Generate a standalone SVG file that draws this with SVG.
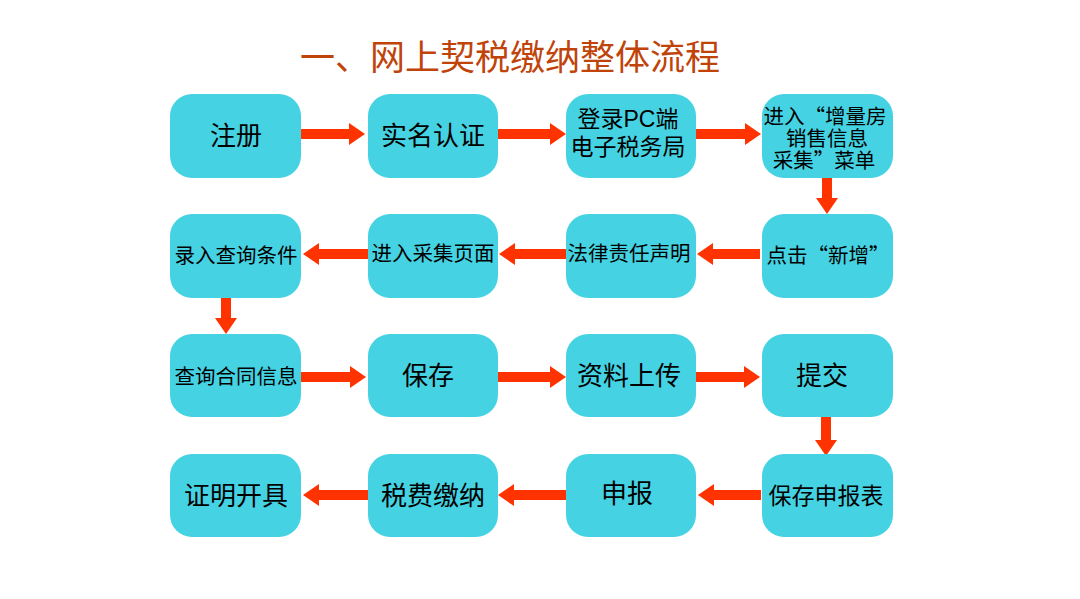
<svg xmlns="http://www.w3.org/2000/svg" width="1080" height="599" viewBox="0 0 1080 599">
<style>
.node rect{fill:#45d3e3;}
.node text{font-family:"Liberation Sans","Noto Sans CJK SC",sans-serif;fill:#000;text-anchor:middle;}
.node text.cjk{font-family:"Noto Sans CJK SC",sans-serif;}
.t26{font-size:26px;}
.t23{font-size:23px;}
.t21{font-size:20.5px;}
.title{font-family:"Liberation Sans","Noto Sans CJK SC",sans-serif;font-size:35px;fill:#c0440a;}
.conn line{stroke:#ff3300;stroke-width:10;marker-end:url(#ah);}
</style>
<defs>
<marker id="ah" markerUnits="userSpaceOnUse" viewBox="0 0 16 22" refX="1" refY="11" markerWidth="16" markerHeight="22" orient="auto">
<path d="M0,0 L16,11 L0,22 Z" fill="#ff3300"/>
</marker>
</defs>
<rect width="1080" height="599" fill="#fff"/>
<text class="title" x="300" y="70">一、网上契税缴纳整体流程</text>

<g class="conn">
<line x1="301" y1="134" x2="350" y2="134"/>
<line x1="498" y1="134" x2="551" y2="134"/>
<line x1="696" y1="134" x2="746" y2="134"/>
<line x1="827" y1="177" x2="827" y2="199"/>
<line x1="760" y1="254" x2="712" y2="254"/>
<line x1="566" y1="254" x2="514" y2="254"/>
<line x1="369" y1="254" x2="318" y2="254"/>
<line x1="226" y1="297" x2="226" y2="319"/>
<line x1="301" y1="377" x2="351" y2="377"/>
<line x1="498" y1="377" x2="551" y2="377"/>
<line x1="695" y1="377" x2="745" y2="377"/>
<line x1="826" y1="416" x2="826" y2="441"/>
<line x1="761" y1="495" x2="713" y2="495"/>
<line x1="566" y1="495" x2="513" y2="495"/>
<line x1="369" y1="495" x2="318" y2="495"/>
</g>

<g id="n1" class="node"><rect x="170" y="94" width="131" height="84" rx="22"/><text class="t26" x="236" y="145">注册</text></g>
<g id="n2" class="node"><rect x="368" y="94" width="130" height="84" rx="22"/><text class="t26" x="433" y="145">实名认证</text></g>
<g id="n3" class="node"><rect x="566" y="94" width="130" height="84" rx="22"/><text class="t23" x="628" y="127">登录PC端</text><text class="t23" x="628" y="155">电子税务局</text></g>
<g id="n4" class="node"><rect x="762" y="94" width="131" height="84" rx="22"/><text class="t21 cjk" x="825" y="124">进入“增量房</text><text class="t21" x="827" y="146">销售信息</text><text class="t21 cjk" x="824" y="168">采集”菜单</text></g>

<g id="n5" class="node"><rect x="762" y="214" width="131" height="84" rx="22"/><text class="t21 cjk" x="828" y="263">点击“新增”</text></g>
<g id="n6" class="node"><rect x="566" y="214" width="130" height="84" rx="22"/><text class="t21" x="629" y="261">法律责任声明</text></g>
<g id="n7" class="node"><rect x="368" y="214" width="130" height="84" rx="22"/><text class="t21" x="433" y="261">进入采集页面</text></g>
<g id="n8" class="node"><rect x="170" y="214" width="131" height="84" rx="22"/><text class="t21" x="236" y="263">录入查询条件</text></g>

<g id="n9" class="node"><rect x="170" y="334" width="131" height="83" rx="22"/><text class="t21" x="236" y="384">查询合同信息</text></g>
<g id="n10" class="node"><rect x="368" y="334" width="130" height="83" rx="22"/><text class="t26" x="428" y="385">保存</text></g>
<g id="n11" class="node"><rect x="566" y="334" width="130" height="83" rx="22"/><text class="t26" x="629" y="385">资料上传</text></g>
<g id="n12" class="node"><rect x="762" y="334" width="131" height="83" rx="22"/><text class="t26" x="822" y="385">提交</text></g>

<g id="n13" class="node"><rect x="762" y="454" width="131" height="83" rx="22"/><text class="t23" x="826" y="504">保存申报表</text></g>
<g id="n14" class="node"><rect x="566" y="454" width="130" height="83" rx="22"/><text class="t26" x="627" y="503">申报</text></g>
<g id="n15" class="node"><rect x="368" y="454" width="130" height="83" rx="22"/><text class="t26" x="433" y="505">税费缴纳</text></g>
<g id="n16" class="node"><rect x="170" y="454" width="131" height="83" rx="22"/><text class="t26" x="236" y="505">证明开具</text></g>
</svg>
